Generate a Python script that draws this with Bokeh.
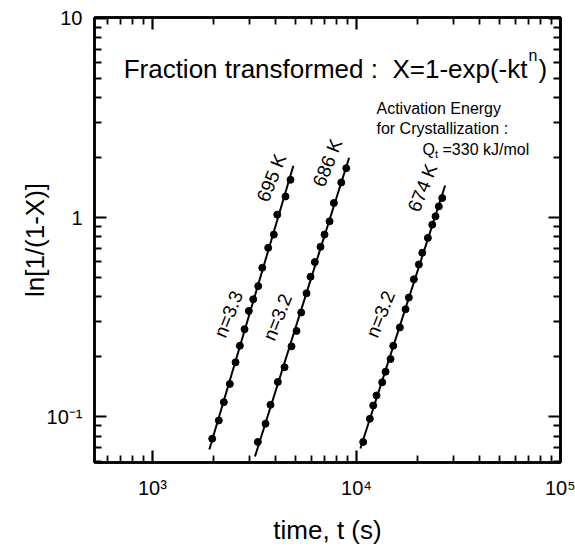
import numpy as np
from bokeh.plotting import figure
from bokeh.models import LogAxis, FixedTicker, Label, Range1d, CustomJSTickFormatter
from bokeh.embed import file_html
from bokeh.resources import INLINE

# ---------------- data ----------------
t_695 = [1963, 2115, 2238, 2395, 2555, 2682, 2828, 2967, 3118, 3299, 3453, 3692, 3935, 4090, 4490, 4750]
y_695 = [0.0777, 0.0959, 0.1185, 0.1463, 0.1879, 0.2274, 0.2755, 0.340, 0.389, 0.453, 0.560, 0.705, 0.822, 1.035, 1.277, 1.548]

t_686 = [3285, 3583, 3791, 4117, 4441, 4805, 5084, 5360, 5690, 5953, 6250, 6664, 6973, 7380, 7745, 8422, 8910]
y_686 = [0.0748, 0.0923, 0.1149, 0.1497, 0.1773, 0.2258, 0.270, 0.334, 0.417, 0.505, 0.598, 0.713, 0.822, 0.958, 1.184, 1.501, 1.77]

t_674 = [10790, 11630, 12080, 12540, 13370, 13890, 14690, 15140, 16320, 17400, 18060, 19110, 20220, 21010, 22380, 23520, 24410, 25330, 26330]
y_674 = [0.0748, 0.0978, 0.114, 0.128, 0.149, 0.1685, 0.195, 0.2273, 0.281, 0.3467, 0.3968, 0.49, 0.582, 0.666, 0.791, 0.922, 1.015, 1.138, 1.254]

temp_labels = ["695 K", "686 K", "674 K"]
n_labels = ["n=3.3", "n=3.2", "n=3.2"]

x_major = [1e3, 1e4, 1e5]
x_tick_labels = ["10\u00b3", "10\u2074", "10\u2075"]
x_minor = [600, 700, 800, 900, 2000, 3000, 4000, 5000, 6000, 7000, 8000, 9000,
           20000, 30000, 40000, 50000, 60000, 70000, 80000, 90000]
y_major = [0.1, 1, 10]
y_tick_labels = ["10\u207b\u00b9", "1", "10"]
y_minor = [0.06, 0.07, 0.08, 0.09, 0.2, 0.3, 0.4, 0.5, 0.6, 0.7, 0.8, 0.9,
           2, 3, 4, 5, 6, 7, 8, 9]

X0, X1 = 520, 1e5
Y0, Y1 = 0.059, 10.1

# ---------------- layout ----------------
W, H = 575, 547
L, R, T, B = 94, 560, 17, 464
FONT = "Liberation Sans"

p = figure(width=W, height=H, x_axis_type="log", y_axis_type="log",
           x_range=Range1d(X0, X1), y_range=Range1d(Y0, Y1),
           output_backend="svg", toolbar_location=None,
           min_border_left=L, min_border_right=W - R,
           min_border_top=T, min_border_bottom=H - B)
p.background_fill_color = "white"
p.border_fill_color = "white"
p.outline_line_color = "black"
p.outline_line_width = 2.5
p.xgrid.visible = False
p.ygrid.visible = False

empty = CustomJSTickFormatter(code="return ''")


def style_axis(ax, major, minor, labels=None):
    ax.ticker = FixedTicker(ticks=major, minor_ticks=minor)
    if labels is None:
        ax.formatter = empty
        ax.major_label_text_font_size = "0px"
        ax.major_label_standoff = 0
    else:
        ax.major_label_overrides = {float(v): s for v, s in zip(major, labels)}
        ax.major_label_text_font = FONT
        ax.major_label_text_font_size = "20px"
        ax.major_label_text_color = "black"
    ax.axis_line_color = "black"
    ax.axis_line_width = 2.5
    ax.major_tick_in = 12
    ax.major_tick_out = 0
    ax.minor_tick_in = 7
    ax.minor_tick_out = 0
    ax.major_tick_line_width = 2.2
    ax.minor_tick_line_width = 1.8
    ax.major_tick_line_color = "black"
    ax.minor_tick_line_color = "black"


xa = p.xaxis[0]
ya = p.yaxis[0]
style_axis(xa, x_major, x_minor, x_tick_labels)
style_axis(ya, y_major, y_minor, y_tick_labels)
xa.major_label_standoff = 14
ya.major_label_standoff = 12

xa.axis_label = "time, t (s)"
xa.axis_label_text_font = FONT
xa.axis_label_text_font_size = "26px"
xa.axis_label_text_font_style = "normal"
xa.axis_label_text_color = "black"
xa.axis_label_standoff = 13

ya.axis_label = "ln[1/(1-X)]"
ya.axis_label_text_font = FONT
ya.axis_label_text_font_size = "26px"
ya.axis_label_text_font_style = "normal"
ya.axis_label_text_color = "black"
ya.axis_label_standoff = -6

top_ax = LogAxis()
right_ax = LogAxis()
style_axis(top_ax, x_major, x_minor)
style_axis(right_ax, y_major, y_minor)
p.add_layout(top_ax, "above")
p.add_layout(right_ax, "right")


def px_x(px):
    return float(10 ** (np.log10(X0) + (px - L) / (R - L) * np.log10(X1 / X0)))


def py_y(py):
    return float(10 ** (np.log10(Y1) - (py - T) / (B - T) * np.log10(Y1 / Y0)))


# ---------------- series ----------------
for t, y in [(t_695, y_695), (t_686, y_686), (t_674, y_674)]:
    lt, ly = np.log10(t), np.log10(y)
    k, c = np.polyfit(lt, ly, 1)
    ext = 0.014
    fx = np.array([lt.min() - ext, lt.max() + ext])
    p.line(10 ** fx, 10 ** (k * fx + c), line_color="black", line_width=2)
    p.scatter(t, y, size=7, marker="circle", fill_color="black", line_color="black")


def lab(x, y, text, size, align="left", base="alphabetic", angle=0.0, xo=0, yo=0):
    p.add_layout(Label(x=float(x), y=float(y), text=text, text_font=FONT,
                       text_font_size=f"{size}px", text_color="black",
                       text_align=align, text_baseline=base, angle=float(angle),
                       x_offset=xo, y_offset=yo))


# rotated curve labels
ang = np.deg2rad(68)
temp_pos = [(271, 178), (327, 163), (422, 188)]
n_pos = [(228, 315), (277, 318), (380, 315)]
for (px, py), txt in zip(temp_pos, temp_labels):
    lab(px_x(px), py_y(py), txt, 19, align="center", base="middle", angle=ang)
for (px, py), txt in zip(n_pos, n_labels):
    lab(px_x(px), py_y(py), txt, 19, align="center", base="middle", angle=ang)

# title equation
lab(px_x(527), py_y(69), "Fraction transformed :\u00a0 X=1-exp(-kt", 26, align="right")
lab(px_x(528), py_y(55), "n", 16)
lab(px_x(538), py_y(69), ")", 26)

# activation energy note
lab(px_x(376), py_y(108), "Activation Energy", 16)
lab(px_x(376), py_y(128), "for Crystallization :", 16)
lab(px_x(422), py_y(150), "Q", 16)
lab(px_x(434.5), py_y(154), "t", 11)
lab(px_x(442), py_y(150), "=330 kJ/mol", 16)

open("out.html", "w").write(file_html(p, INLINE))
